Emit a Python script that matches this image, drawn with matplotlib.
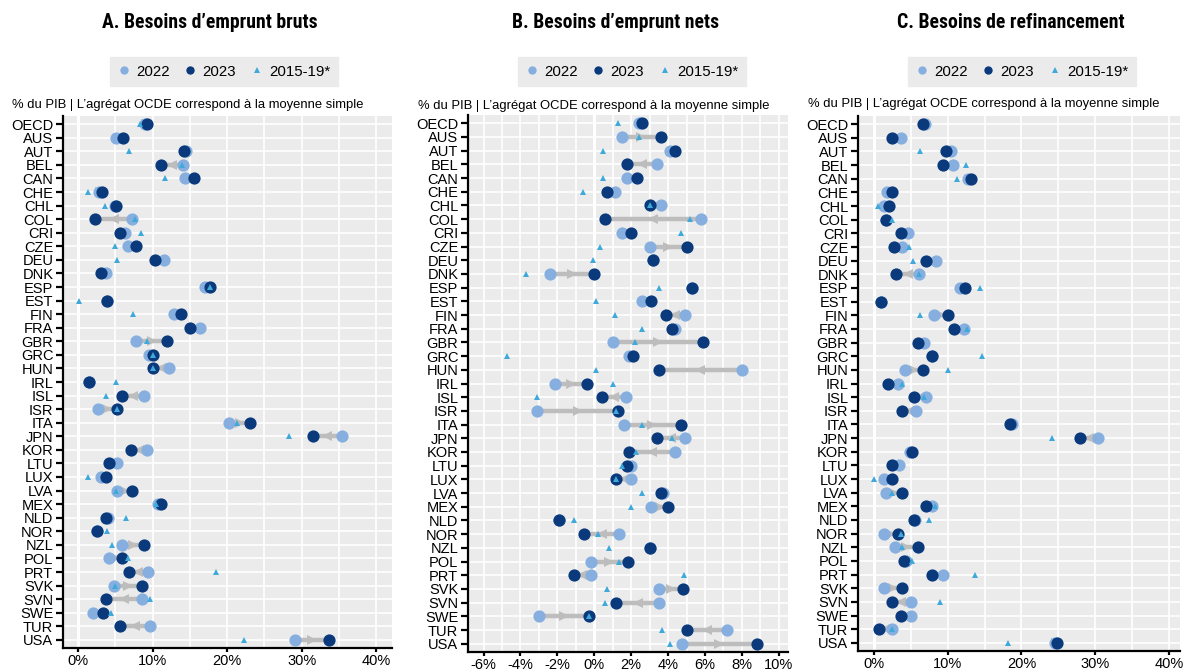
import numpy as np
import matplotlib.pyplot as plt
from matplotlib import font_manager
from matplotlib.font_manager import FontProperties
from matplotlib.lines import Line2D

# Données (% du PIB)
countries = ['OECD', 'AUS', 'AUT', 'BEL', 'CAN', 'CHE', 'CHL', 'COL', 'CRI', 'CZE',
             'DEU', 'DNK', 'ESP', 'EST', 'FIN', 'FRA', 'GBR', 'GRC', 'HUN', 'IRL',
             'ISL', 'ISR', 'ITA', 'JPN', 'KOR', 'LTU', 'LUX', 'LVA', 'MEX', 'NLD',
             'NOR', 'NZL', 'POL', 'PRT', 'SVK', 'SVN', 'SWE', 'TUR', 'USA']
nan = np.nan

# A. Besoins d'emprunt bruts
gross_2022 = [9.0, 5.1, 14.5, 14.1, 14.4, 2.8, 5.0, 7.3, 6.3, 6.7,
              11.5, 3.7, 17.0, 3.9, 12.9, 16.4, 7.8, 9.5, 12.2, 1.5,
              8.8, 2.7, 20.3, 35.4, 9.2, 5.2, 3.1, 5.2, 10.8, 4.0,
              2.5, 5.9, 4.2, 9.4, 4.8, 8.6, 2.0, 9.6, 29.1]
gross_2023 = [9.3, 6.1, 14.2, 11.2, 15.5, 3.2, 5.1, 2.3, 5.7, 7.8,
              10.3, 3.1, 17.7, 3.9, 13.8, 15.0, 12.0, 10.0, 10.1, 1.5,
              5.9, 5.2, 23.1, 31.5, 7.1, 4.2, 3.7, 7.3, 11.2, 3.7,
              2.5, 8.8, 5.9, 6.8, 8.6, 3.7, 3.3, 5.7, 33.6]
gross_1519 = [8.3, nan, 6.8, 14.0, 11.7, 1.4, 3.6, 7.7, 8.5, 5.0,
              5.3, nan, 17.7, 0.1, 7.4, nan, 9.2, 10.0, 10.1, 5.1,
              3.8, 5.2, 21.3, 28.3, nan, nan, 1.3, 5.1, 10.5, 6.4,
              3.9, 4.6, 6.7, 18.5, 5.0, 9.6, 4.5, nan, 22.3]

# B. Besoins d'emprunt nets
net_2022 = [2.4, 1.5, 4.1, 3.4, 1.8, 1.1, 3.6, 5.8, 1.5, 3.0,
            3.2, -2.4, 5.3, 2.6, 4.9, 4.4, 1.0, 1.9, 8.0, -2.1,
            1.7, -3.1, 1.6, 4.9, 4.4, 2.0, 2.0, 3.7, 3.1, -1.9,
            1.35, 3.0, -0.2, -0.2, 3.5, 3.5, -3.0, 7.2, 4.75]
net_2023 = [2.6, 3.6, 4.4, 1.75, 2.3, 0.7, 3.0, 0.6, 2.0, 5.0,
            3.2, 0.0, 5.3, 3.05, 3.9, 4.2, 5.9, 2.1, 3.5, -0.4,
            0.4, 1.3, 4.7, 3.4, 1.9, 1.8, 1.2, 3.6, 4.0, -1.9,
            -0.55, 3.0, 1.85, -1.1, 4.8, 1.2, -0.3, 5.0, 8.8]
net_1519 = [1.3, 2.4, 0.5, nan, 0.5, -0.6, 3.0, 5.2, 4.7, 0.3,
            -0.05, -3.7, 3.5, 0.1, 1.1, 2.6, 2.2, -4.75, 0.1, 1.0,
            -3.1, 1.2, 2.6, 4.2, 2.25, 1.5, 1.2, 2.6, 2.0, -1.1,
            0.2, 0.8, 1.35, 4.85, 0.7, 0.6, -0.3, 3.65, 4.1]

# C. Besoins de refinancement
refi_2022 = [6.9, 3.7, 10.5, 10.7, 12.7, 1.7, 1.4, 1.6, 4.65, 3.8,
             8.35, 6.1, 11.7, 0.95, 8.2, 12.2, 6.8, 7.8, 4.2, 3.3,
             7.0, 5.65, 18.7, 30.4, 4.9, 3.4, 1.3, 1.6, 7.8, 5.6,
             1.3, 2.85, 4.3, 9.4, 1.3, 5.0, 5.0, 2.4, 24.5]
refi_2023 = [6.6, 2.4, 9.75, 9.4, 13.2, 2.4, 2.1, 1.6, 3.65, 2.75,
             7.1, 3.05, 12.4, 0.95, 10.05, 10.8, 6.0, 7.8, 6.7, 1.85,
             5.45, 3.85, 18.4, 28.0, 5.2, 2.4, 2.4, 3.75, 7.1, 5.45,
             3.2, 5.9, 4.1, 7.9, 3.75, 2.4, 3.65, 0.7, 24.8]
refi_1519 = [nan, nan, 6.2, 12.5, 11.3, nan, 0.5, 2.5, nan, 4.7,
             5.3, 6.1, 14.35, nan, 6.2, 12.55, nan, 14.6, 10.0, 3.85,
             6.8, nan, nan, 24.15, nan, nan, 0.0, 2.4, 8.3, 7.5,
             3.65, 3.85, 5.2, 13.7, nan, 9.0, nan, 2.5, 18.2]

titles = ['A. Besoins d\u2019emprunt bruts', 'B. Besoins d\u2019emprunt nets',
          'C. Besoins de refinancement']
subtitle = '% du PIB | L\u2019agrégat OCDE correspond à la moyenne simple'
legend_labels = ['2022', '2023', '2015-19*']
ticks_ac = [0, 10, 20, 30, 40]
ticks_b = [-6, -4, -2, 0, 2, 4, 6, 8, 10]

LIGHT = '#86afe0'
DARK = '#0a3a7c'
TRI = '#3fa9dc'
GREY = '#bdbdbd'
BG = '#ebebeb'

plt.rcParams['font.family'] = ['Liberation Sans', 'DejaVu Sans']


def title_font():
    """Cherche une police grasse étroite ; sinon Liberation Sans gras."""
    wanted = ['Liberation Sans Narrow', 'Noto Sans', 'Roboto', 'Open Sans', 'DejaVu Sans']
    for fam in wanted:
        for f in font_manager.fontManager.ttflist:
            narrow = ('Narrow' in f.name or 'Condensed' in f.name
                      or str(f.stretch) in ('condensed', 'semi-condensed'))
            if f.name.startswith(fam) and narrow and str(f.weight) in ('bold', '700') \
                    and f.style == 'normal':
                return FontProperties(fname=f.fname, size=14.5)
    return FontProperties(family='Liberation Sans', weight='bold', size=14.5)


def draw_panel(ax, v22, v23, v1519, xlim, ticks, minor_step):
    y = np.arange(len(countries))
    v22 = np.asarray(v22, dtype=float)
    v23 = np.asarray(v23, dtype=float)
    # ligne grise 2022 -> 2023 avec flèche au milieu
    for yi, a, b in zip(y, v22, v23):
        ax.plot([a, b], [yi, yi], color=GREY, lw=3.2, solid_capstyle='butt', zorder=2)
        if abs(b - a) > 0.3:
            ax.plot((a + b) / 2, yi, marker='>' if b > a else '<', color=GREY,
                    ms=7, mew=0, zorder=2)
    ax.plot(v22, y, 'o', color=LIGHT, ms=8.8, mew=0, zorder=3)
    ax.plot(v23, y, 'o', color=DARK, ms=8.8, mew=0, zorder=4)
    ax.plot(v1519, y, '^', color=TRI, ms=4.5, mew=0, zorder=5)

    ax.set_facecolor(BG)
    ax.set_xlim(*xlim)
    ax.set_ylim(len(countries) - 0.4, -0.6)
    ax.set_yticks(y)
    ax.set_yticklabels(countries, fontsize=10.5)
    ax.set_xticks(ticks)
    ax.set_xticklabels(['%d%%' % t for t in ticks], fontsize=10.5)
    minor = np.arange(ticks[0], ticks[-1] + 0.01, minor_step)
    for x in minor:
        ax.axvline(x, color='white', lw=2.2 if x == 0 else 1.2, zorder=1)
    for yi in y:
        ax.axhline(yi, color='white', lw=1.2, zorder=1)
    for side in ['top', 'right']:
        ax.spines[side].set_visible(False)
    for side in ['left', 'bottom']:
        ax.spines[side].set_color('black')
        ax.spines[side].set_linewidth(1.6)
    ax.tick_params(axis='y', length=5, width=1.6, color='black', pad=2)
    ax.tick_params(axis='x', length=3, width=1.6, color='black', pad=1.5)


fig = plt.figure(figsize=(11.85, 6.72), dpi=100)
W, H = 1185.0, 672.0
# (gauche, haut, droite, bas) en pixels
boxes = [(63, 116, 392, 648), (468, 115, 788, 652), (858, 116, 1180, 651)]
xlims = [(-2.0, 42.1), (-6.84, 10.5), (-2.17, 41.5)]
data = [(gross_2022, gross_2023, gross_1519, ticks_ac, 5),
        (net_2022, net_2023, net_1519, ticks_b, 1),
        (refi_2022, refi_2023, refi_1519, ticks_ac, 5)]
title_x = [210, 616, 1011]
title_w = [216, 207, 228]
legend_x = [224, 632, 1022]
sub_pos = [(12, 105), (418, 106), (808, 104)]

handles = [Line2D([], [], ls='none', marker='o', color=LIGHT, ms=6, mew=0),
           Line2D([], [], ls='none', marker='o', color=DARK, ms=6, mew=0),
           Line2D([], [], ls='none', marker='^', color=TRI, ms=4.5, mew=0)]

tprop = title_font()
title_texts = []
for i in range(3):
    l, t, r, b = boxes[i]
    ax = fig.add_axes([l / W, 1 - b / H, (r - l) / W, (b - t) / H])
    v22, v23, v1519, ticks, step = data[i]
    draw_panel(ax, v22, v23, v1519, xlims[i], ticks, step)
    tt = fig.text(title_x[i] / W, 1 - 23 / H, titles[i], ha='center', va='center',
                  fontproperties=tprop.copy())
    title_texts.append(tt)
    fig.text(sub_pos[i][0] / W, 1 - sub_pos[i][1] / H, subtitle, ha='left',
             va='center', fontsize=9.4)
    fig.legend(handles, legend_labels, loc='center', ncol=3,
               bbox_to_anchor=(legend_x[i] / W, 1 - 71.5 / H),
               frameon=True, fancybox=False, facecolor=BG, edgecolor=BG,
               framealpha=1, fontsize=10.8, handlelength=0.8,
               handletextpad=0.4, columnspacing=1.0, borderpad=0.5)

# ajuster la taille des titres à la largeur du modèle
fig.canvas.draw()
renderer = fig.canvas.get_renderer()
for tt, target in zip(title_texts, title_w):
    w = tt.get_window_extent(renderer).width
    tt.set_fontsize(tt.get_fontsize() * target / w)

fig.savefig('out.png', dpi=100)
